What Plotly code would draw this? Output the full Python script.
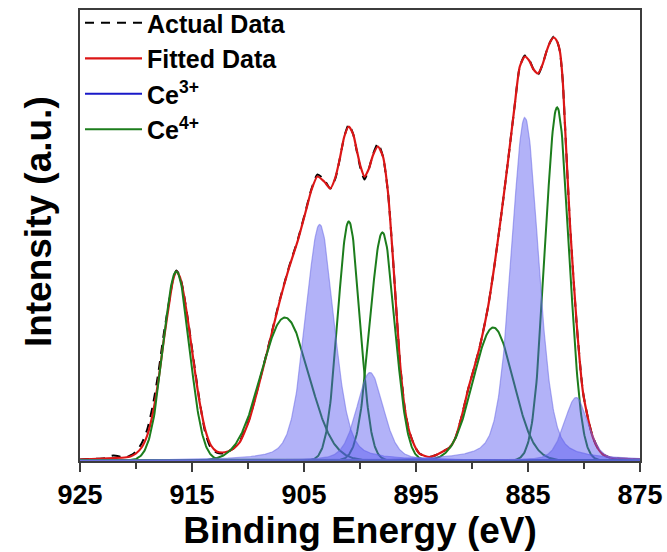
import numpy as np
import plotly.graph_objects as go

# ---- data ----
# Ce3+ component peaks (binding energy eV, height a.u., FWHM eV)
ce3_center = [903.6, 899.1, 885.28, 880.7]
ce3_height = [236, 88, 343, 63]
ce3_fwhm = [3.0, 2.8, 2.85, 2.5]
ce3_lfrac = 0.3

# Ce4+ component peaks
ce4_center = [916.4, 906.7, 901.0, 898.0, 888.1, 882.4]
ce4_height = [189, 143, 239, 228, 133, 353]
ce4_fwhm = [2.75, 5.0, 2.3, 2.6, 4.2, 2.5]

# envelope (binding energy eV) of measured / fitted spectrum
env_energy = [925.0, 924.0, 923.0, 922.0, 921.0, 920.5, 920.0, 919.5, 919.0, 918.5,
              918.0, 917.5, 917.0, 916.7, 916.4, 916.1, 915.8, 915.3, 914.8, 914.3,
              913.8, 913.3, 912.8, 912.3, 911.8, 911.3, 910.75, 909.9, 909.0, 908.1,
              907.2, 906.3, 905.55, 904.8, 904.35, 903.8, 903.2, 902.65, 902.2, 901.8,
              901.4, 901.0, 900.6, 900.3, 899.95, 899.6, 899.2, 898.85, 898.4, 897.95,
              897.5, 897.05, 896.45, 896.0, 895.6, 895.1, 894.7, 894.2, 893.8, 893.2,
              892.6, 892.0, 891.5, 890.9, 890.35, 889.8, 889.3, 888.56, 887.96, 887.36,
              886.8, 886.2, 885.73, 885.28, 884.9, 884.5, 884.1, 883.7, 883.35, 883.0,
              882.7, 882.4, 882.15, 881.9, 881.7, 881.25, 880.65, 880.1, 879.6, 879.2,
              878.7, 878.3, 877.7, 877.0, 876.0, 875.0]
fitted_intensity = [1, 1.5, 2, 2.5, 3, 4, 7, 13, 25, 47,
                    80, 122, 160, 180, 189, 184, 170, 135, 94, 57,
                    30, 15, 9, 8, 9, 12, 18, 40, 77, 117,
                    158, 194, 220, 251, 270, 284, 279, 272, 283, 302,
                    324, 334, 326, 311, 294, 284, 292, 305, 314, 304,
                    268, 201, 101, 52, 29, 14, 7, 4.5, 3.5, 5.5,
                    9, 13, 22, 45, 71, 93, 114, 154, 198, 248,
                    298, 354, 394, 404, 400, 391, 387, 396, 409, 419,
                    423, 419, 409, 380, 336, 236, 136, 69, 40, 23,
                    11, 6, 3, 2, 1.5, 1]
actual_intensity = [1, 1.5, 2, 5, 3, 5, 9, 17, 31, 55,
                    88, 128, 162, 181, 190, 185, 171, 136, 96, 58,
                    27, 12, 8, 7, 9, 12, 19, 41, 78, 118,
                    159, 195, 221, 252, 271, 286, 281, 272, 282, 302,
                    324, 336, 326, 310, 292, 281, 292, 306, 317, 304,
                    268, 201, 101, 52, 29, 14, 7, 4.5, 3.5, 5.5,
                    9, 13, 22, 45, 71, 93, 114, 154, 198, 248,
                    298, 354, 394, 405, 401, 391, 386, 396, 409, 419,
                    424, 419, 409, 380, 336, 236, 136, 69, 40, 23,
                    11, 6, 3, 2, 1.5, 1]

x_ticks = [925, 915, 905, 895, 885, 875]
x_minor = [920, 910, 900, 890, 880]

# ---- peak shapes ----
E = np.linspace(875, 925, 1001)


def pvoigt(x, c, h, w, eta):
    g = np.exp(-4 * np.log(2) * (x - c) ** 2 / w ** 2)
    l = 1.0 / (1.0 + 4 * (x - c) ** 2 / w ** 2)
    return h * (eta * l + (1 - eta) * g)


ce3_curves = [pvoigt(E, c, h, w, ce3_lfrac) for c, h, w in zip(ce3_center, ce3_height, ce3_fwhm)]
ce4_curves = [pvoigt(E, c, h, w, 0.0) for c, h, w in zip(ce4_center, ce4_height, ce4_fwhm)]

FONT = "Liberation Sans, Arial, sans-serif"
FRAME = "#3c3c3c"
fig = go.Figure()

fig.add_trace(go.Scatter(x=env_energy, y=actual_intensity, mode="lines",
                         line=dict(color="black", width=2, dash="9px,7px",
                                   shape="spline", smoothing=0.6),
                         name="Actual Data"))
fig.add_trace(go.Scatter(x=env_energy, y=fitted_intensity, mode="lines",
                         line=dict(color="rgb(220,22,22)", width=2.2,
                                   shape="spline", smoothing=0.6),
                         name="Fitted Data"))
# legend entry for Ce3+ (plain line)
fig.add_trace(go.Scatter(x=[None], y=[None], mode="lines",
                         line=dict(color="rgb(25,25,200)", width=2),
                         name="Ce<sup>3+</sup>"))
for i, cv in enumerate(ce4_curves):
    fig.add_trace(go.Scatter(x=E, y=cv, mode="lines",
                             line=dict(color="rgb(28,125,28)", width=2),
                             name="Ce<sup>4+</sup>", legendgroup="ce4",
                             showlegend=(i == 0)))
for i, cv in enumerate(ce3_curves):
    fig.add_trace(go.Scatter(x=E, y=cv, mode="lines", fill="tozeroy",
                             fillcolor="rgba(85,85,240,0.45)",
                             line=dict(color="rgba(110,110,230,0.55)", width=1.2),
                             showlegend=False, hoverinfo="skip"))

fig.update_layout(
    width=667, height=552,
    margin=dict(l=80, r=27, t=10, b=91, autoexpand=False),
    plot_bgcolor="white", paper_bgcolor="white",
    font=dict(family=FONT, color="black"),
    showlegend=True,
    legend=dict(x=0.0, y=1.022, xanchor="left", yanchor="top",
                bgcolor="rgba(0,0,0,0)", borderwidth=0,
                font=dict(size=25, family=FONT, weight="bold"),
                itemwidth=57, tracegroupgap=0,
                traceorder="normal"),
    xaxis=dict(range=[925, 875], tickvals=x_ticks, ticks="outside", ticklen=9,
               tickwidth=2, tickcolor=FRAME, showline=True, linecolor=FRAME,
               linewidth=2, mirror=True, showgrid=False, zeroline=False,
               automargin=False,
               tickfont=dict(size=27, family=FONT, weight="bold"),
               minor=dict(tickvals=x_minor, ticks="outside",
                          ticklen=6, tickwidth=2, tickcolor=FRAME),
               title=dict(text="Binding Energy (eV)", standoff=2,
                          font=dict(size=37, family=FONT, weight="bold"))),
    yaxis=dict(range=[-0.5, 450.5], showticklabels=False, ticks="", showline=True,
               linecolor=FRAME, linewidth=2, mirror=True, showgrid=False,
               zeroline=False, automargin=False),
    annotations=[dict(text="<b>Intensity (a.u.)</b>", textangle=-90,
                      xref="paper", yref="paper", x=-0.073, y=0.53,
                      xanchor="center", yanchor="middle", showarrow=False,
                      font=dict(size=37, family=FONT, color="black"))],
)

fig.write_html("out.html", config={"displayModeBar": False},
               post_script="document.body.style.margin='0';"
                           "document.body.style.overflow='hidden';")
